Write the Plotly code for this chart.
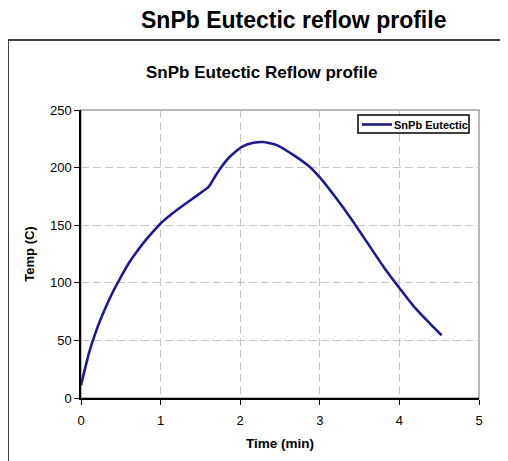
import plotly.graph_objects as go

time_min = [0.0, 0.1, 0.2, 0.3, 0.4, 0.5, 0.6, 0.7, 0.8, 0.9, 1.0, 1.1, 1.2, 1.4,
            1.6, 1.63, 1.70, 1.75, 1.87, 2.02, 2.166, 2.29, 2.46, 2.67, 2.85, 3.0,
            3.2, 3.4, 3.6, 3.8, 4.0, 4.2, 4.4, 4.53]
temp_c = [11, 39, 60, 77, 92, 105, 117, 127, 136, 144, 151.5, 157.5, 163, 173,
          183, 186, 194, 199.3, 209.4, 218, 221.5, 222.2, 219.5, 210.9, 202, 191.5,
          174, 155, 134.5, 114, 95.5, 78, 63.5, 54.5]
series_name = "SnPb Eutectic"
x_ticks = [0, 1, 2, 3, 4, 5]
y_ticks = [0, 50, 100, 150, 200, 250]

FONT = "Liberation Sans, Arial, sans-serif"
LINE_COLOR = "#1c1c8a"

# plot area (page pixels): x 81..479, y 110..398 ; page body has 8px offset
PL, PR, PT, PB = 81, 479, 110, 398
W, H = 500, 461
OFF = 8


def px(xp):
    return (xp - PL) / (PR - PL)


def py(yp):
    return (PB - yp) / (PB - PT)


fig = go.Figure()
fig.add_trace(go.Scatter(x=time_min, y=temp_c, mode="lines", name=series_name,
                         showlegend=False,
                         line=dict(color=LINE_COLOR, width=2.6, shape="spline", smoothing=0.5)))

fig.update_layout(
    width=W, height=H,
    margin=dict(l=PL - OFF, r=W + OFF - PR, t=PT - OFF, b=H - PB + OFF),
    paper_bgcolor="white", plot_bgcolor="white",
    font=dict(family=FONT, color="black", size=13),
    showlegend=False,
    xaxis=dict(range=[0, 5], tickvals=x_ticks, showgrid=True, gridcolor="#c4c4c4",
               griddash="8px,4px", gridwidth=1.2, zeroline=False,
               showline=True, linecolor="black", linewidth=1.5,
               ticks="outside", ticklen=5, tickcolor="black", tickwidth=1.3,
               tickfont=dict(size=13), ticklabelstandoff=5,
               title=dict(text="<b>Time (min)</b>", font=dict(size=13.5), standoff=11)),
    yaxis=dict(range=[0, 250], tickvals=y_ticks, showgrid=True, gridcolor="#c4c4c4",
               griddash="8px,4px", gridwidth=1.2, zeroline=False,
               showline=True, linecolor="black", linewidth=1.5,
               ticks="outside", ticklen=5, tickcolor="black", tickwidth=1.3,
               tickfont=dict(size=13),
               title=dict(text="<b>Temp (C)</b>", font=dict(size=13), standoff=12)),
    shapes=[
        # plot area border (gray, top/right visible)
        dict(type="rect", xref="paper", yref="paper", x0=0, y0=0, x1=1, y1=1,
             line=dict(color="#a0a0a0", width=1.5), layer="below"),
        # outer chart frame
        dict(type="line", xref="paper", yref="paper", x0=px(8), x1=px(520), y0=py(40), y1=py(40),
             line=dict(color="black", width=1.5)),
        dict(type="line", xref="paper", yref="paper", x0=px(8), x1=px(8), y0=py(40), y1=py(475),
             line=dict(color="black", width=1.5)),
        # legend box
        dict(type="rect", xref="paper", yref="paper", x0=px(358), x1=px(469), y0=py(133), y1=py(115),
             line=dict(color="black", width=1.5), fillcolor="white"),
        dict(type="line", xref="paper", yref="paper", x0=px(362), x1=px(392), y0=py(124.5), y1=py(124.5),
             line=dict(color=LINE_COLOR, width=2.6)),
    ],
    annotations=[
        dict(text="<b>SnPb Eutectic reflow profile</b>", xref="paper", yref="paper",
             x=px(293), y=py(20), xanchor="center", yanchor="middle",
             showarrow=False, font=dict(size=23, family=FONT)),
        dict(text="<b>SnPb Eutectic Reflow profile</b>", xref="paper", yref="paper",
             x=px(261), y=py(73), xanchor="center", yanchor="middle",
             showarrow=False, font=dict(size=17, family=FONT)),
        dict(text="<b>" + series_name + "</b>", xref="paper", yref="paper",
             x=px(392), y=py(124.5), xanchor="left", yanchor="middle",
             showarrow=False, font=dict(size=11, family=FONT)),
    ],
)

fig.write_html("out.html", default_width=f"{W}px", default_height=f"{H}px")
